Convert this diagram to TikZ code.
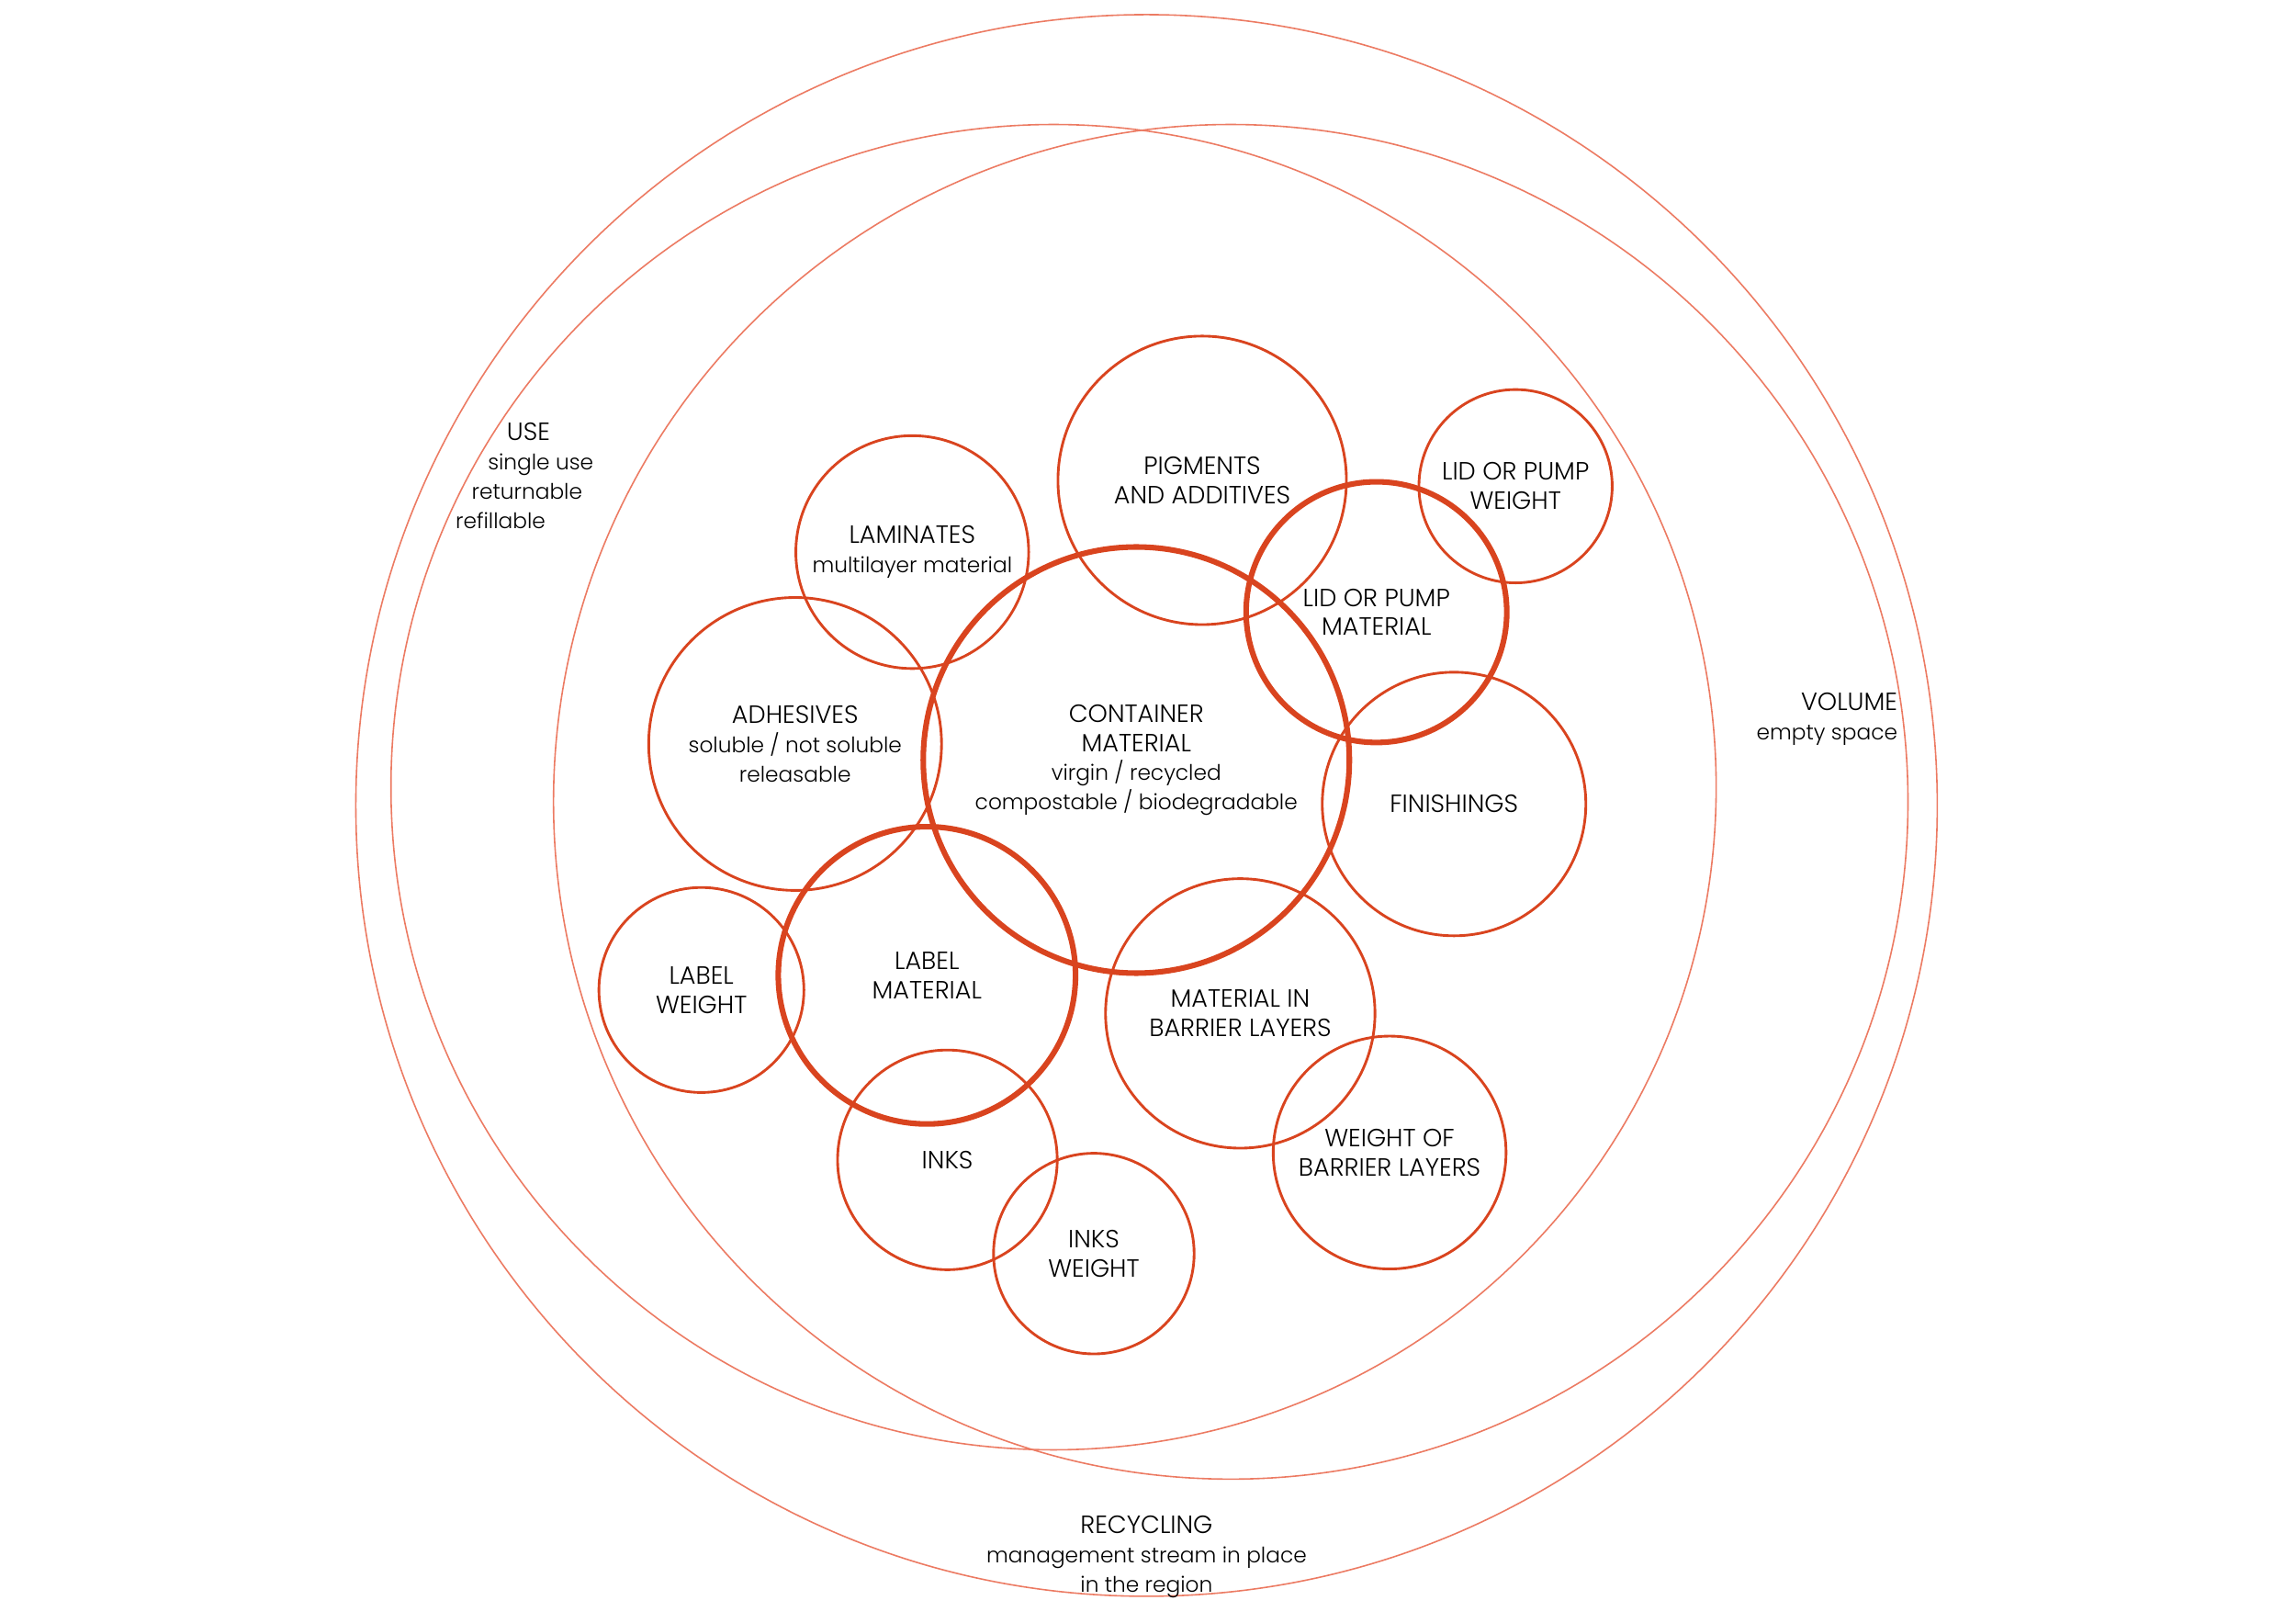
\documentclass[tikz,border=0pt]{standalone}
\usepackage{fontspec}
\setmainfont{Poppins}[UprightFont={* Light}]
\usepackage{tikz}
\usetikzlibrary{positioning}
\definecolor{ringred}{HTML}{D9441F}
\definecolor{halored}{HTML}{EC7B63}
\newcommand{\partfont}{\fontsize{17}{20}\selectfont}
\newcommand{\sub}[1]{{\fontsize{14.6}{20}\selectfont #1}}
\tikzset{
  halo/.style={halored, line width=1pt},
  part/.style={circle, draw=ringred, line width=1.8pt, inner sep=0pt, align=center, font=\partfont},
  core/.style={part, line width=3.8pt},
  note/.style={inner sep=0pt, font=\partfont}
}
\begin{document}
\begin{tikzpicture}[x=1pt,y=-1pt]
        \useasboundingbox (0,0) rectangle (1568,1108);
        % outer rings
        \draw[halo] (783, 550) circle[radius=540];
        \draw[halo] (719.5, 537.5) circle[radius=452.5];
        \draw[halo] (840.5, 547.5) circle[radius=462.5];
        % parts of the pack
        \node[part, minimum size=197pt] (pigments) at (821, 328) {PIGMENTS\\AND ADDITIVES};
        \node[part, minimum size=132pt] (lidweight) at (1035, 332) {LID OR PUMP\\WEIGHT};
        \node[part, minimum size=159pt] (laminates) at (623, 377) {LAMINATES\\\sub{multilayer material}};
        \node[part, minimum size=200pt] (adhesives) at (543, 508) {ADHESIVES\\\sub{soluble / not soluble}\\\sub{releasable}};
        \node[part, minimum size=180pt] (finishings) at (993, 549) {FINISHINGS};
        \node[part, minimum size=140pt] (labelweight) at (479, 676) {LABEL\\WEIGHT};
        \node[part, minimum size=184pt] (barrier) at (847, 692) {MATERIAL IN\\BARRIER LAYERS};
        \node[part, minimum size=159pt] (barrierweight) at (949, 787) {WEIGHT OF\\BARRIER LAYERS};
        \node[part, minimum size=150pt] (inks) at (647, 792) {INKS};
        \node[part, minimum size=137pt] (inksweight) at (747, 856) {INKS\\WEIGHT};
        \node[core, minimum size=291pt] (container) at (776, 519) {CONTAINER\\MATERIAL\\\sub{virgin / recycled}\\\sub{compostable / biodegradable}};
        \node[core, minimum size=178pt] (lidmaterial) at (940, 418) {LID OR PUMP\\MATERIAL};
        \node[core, minimum size=203pt] (labelmaterial) at (633, 666) {LABEL\\MATERIAL};
        % ring labels
        \node[note, anchor=base west] (use) at (346, 301) {USE};
        \node[note, anchor=base west] (single) at (333, 321) {\sub{single use}};
        \node[note, anchor=base west] (returnable) at (322, 341) {\sub{returnable}};
        \node[note, anchor=base west] (refillable) at (311, 361) {\sub{refillable}};
        \node[note, anchor=base east] (volume) at (1296, 485) {VOLUME};
        \node[note, anchor=base east] (empty) at (1296, 505) {\sub{empty space}};
        \node[note, align=center] (recycling) at (783, 1063) {RECYCLING\\\sub{management stream in place}\\\sub{in the region}};
\end{tikzpicture}
\end{document}
